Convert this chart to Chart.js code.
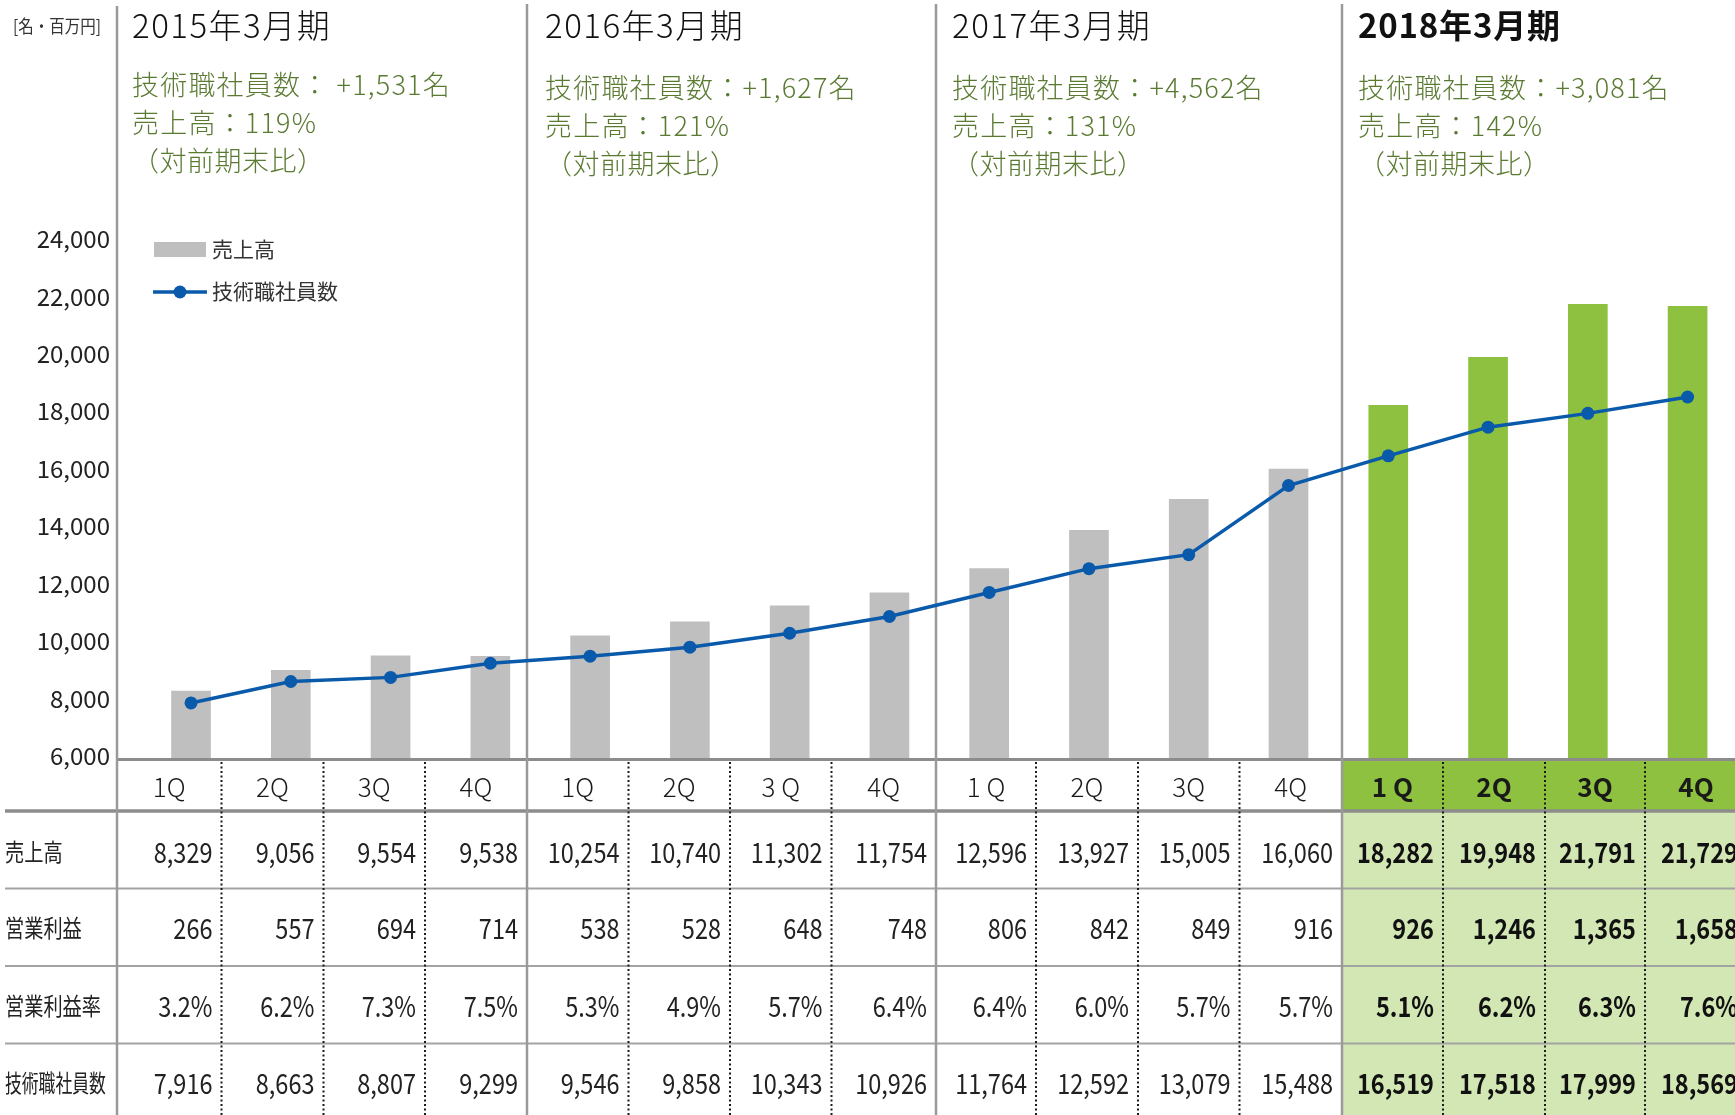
<!DOCTYPE html>
<html><head><meta charset="utf-8">
<script src="https://cdn.jsdelivr.net/npm/chart.js@4.4.1/dist/chart.umd.min.js"></script>
<style>
html,body{margin:0;padding:0;background:#fff;overflow:hidden;}
#wrap{position:relative;width:1735px;height:1115px;}
</style></head><body>
<div id="wrap"><canvas id="c"></canvas></div>
<script>
// ---------------- data ----------------
const periods = ['2015年3月期', '2016年3月期', '2017年3月期', '2018年3月期'];
const headcountGrowth = [' +1,531名', '+1,627名', '+4,562名', '+3,081名'];
const salesGrowth = ['119%', '121%', '131%', '142%'];
const quarters = ['1Q','2Q','3Q','4Q','1Q','2Q','3 Q','4Q','1 Q','2Q','3Q','4Q','1 Q','2Q','3Q','4Q'];
const sales = [8329, 9056, 9554, 9538, 10254, 10740, 11302, 11754, 12596, 13927, 15005, 16060, 18282, 19948, 21791, 21729];
const operatingProfit = [266, 557, 694, 714, 538, 528, 648, 748, 806, 842, 849, 916, 926, 1246, 1365, 1658];
const operatingMargin = [3.2, 6.2, 7.3, 7.5, 5.3, 4.9, 5.7, 6.4, 6.4, 6.0, 5.7, 5.7, 5.1, 6.2, 6.3, 7.6];
const engineers = [7916, 8663, 8807, 9299, 9546, 9858, 10343, 10926, 11764, 12592, 13079, 15488, 16519, 17518, 17999, 18569];
const rowLabels = ['売上高', '営業利益', '営業利益率', '技術職社員数'];
const seriesNames = ['売上高', '技術職社員数'];
const unitLabel = '[名・百万円]';
const yMin = 6000, yMax = 24000, yStep = 2000;
const highlightPeriod = 3;

// ---------------- layout / style ----------------
const GRAY = '#bfbfbf', GREEN = '#8dc13f', LIGHT = '#d3e7b5', BLUE = '#0a5aab', TXTGREEN = '#5a7a32';
const edges = [117,221.5,323.5,425,527,628.5,730,831.5,936,1036,1138,1239.5,1342,1443,1545,1645,1747];
const periodX = [117, 527, 936, 1342];
const titleX = [132, 545, 952, 1358];
const noteDY = [-3, 0, 0, 0];
const rowLines = [888.5, 966, 1043.5];
const rowCenters = [852, 928, 1006, 1083];
const rowLabelScale = [0.8, 0.8, 0.8, 0.7];
const JP = "'Noto Sans CJK JP', sans-serif";

function txt(ctx, s, x, y, font, color, align, sx, ls) {
  ctx.save();
  ctx.font = font; ctx.fillStyle = color;
  ctx.textAlign = align || 'left'; ctx.textBaseline = 'middle';
  if (ls) ctx.letterSpacing = ls;
  ctx.translate(x, y); ctx.scale(sx || 1, 1);
  ctx.fillText(s, 0, 0);
  ctx.restore();
}
function hline(ctx, x1, x2, y, w, c) {
  ctx.save(); ctx.strokeStyle = c; ctx.lineWidth = w;
  ctx.beginPath(); ctx.moveTo(x1, y); ctx.lineTo(x2, y); ctx.stroke(); ctx.restore();
}
function vline(ctx, x, y1, y2, w, c, dash) {
  ctx.save(); ctx.strokeStyle = c; ctx.lineWidth = w;
  if (dash) ctx.setLineDash(dash);
  ctx.beginPath(); ctx.moveTo(x, y1); ctx.lineTo(x, y2); ctx.stroke(); ctx.restore();
}
const fmt = v => v.toLocaleString('en-US');

const decor = {
  id: 'decor',
  beforeDatasetsDraw(chart) {
    const ctx = chart.ctx;
    const W = chart.width, H = chart.height;
    const hx = periodX[highlightPeriod];
    // highlight fills
    ctx.save();
    ctx.fillStyle = GREEN; ctx.fillRect(hx, 760, W - hx, 51);
    ctx.fillStyle = LIGHT; ctx.fillRect(hx, 812, W - hx, H - 812);
    ctx.restore();
    // horizontal lines
    hline(ctx, 117, W, 759.5, 3, '#8c8c8c');
    hline(ctx, 5, W, 811, 3.5, '#8c8c8c');
    rowLines.forEach(y => hline(ctx, 5, W, y, 2, '#a3a3a3'));
    // dotted column separators
    for (let k = 1; k < edges.length - 1; k++) {
      if (k % 4 === 0) continue;
      vline(ctx, edges[k], 762, H, 2, '#1a1a1a', [2, 2.5]);
    }
    // solid period separators
    vline(ctx, 117, 6, H, 2.5, '#9a9a9a');
    for (let p = 1; p < periodX.length; p++) vline(ctx, periodX[p], 4, H, 2.5, '#9a9a9a');

    // unit label
    txt(ctx, unitLabel, 13, 26, '18px ' + JP, '#333', 'left', 0.86);
    // period headers
    periods.forEach((p, i) => {
      const bold = i === highlightPeriod;
      txt(ctx, p, titleX[i], 25, (bold ? '700 ' : '300 ') + '33px ' + JP, '#111', 'left', 1, bold ? '0.8px' : '1.5px');
      const dy = noteDY[i];
      txt(ctx, '技術職社員数：' + headcountGrowth[i], titleX[i], 88 + dy, '300 27px ' + JP, TXTGREEN, 'left', 1, '1.2px');
      txt(ctx, '売上高：' + salesGrowth[i], titleX[i], 126 + dy, '300 27px ' + JP, TXTGREEN, 'left', 1, '1.2px');
      txt(ctx, '（対前期末比）', titleX[i], 164 + dy, '300 27px ' + JP, TXTGREEN, 'left', 1, '0.5px');
    });

    // legend
    ctx.save();
    ctx.fillStyle = GRAY; ctx.fillRect(154, 242, 52, 15);
    ctx.strokeStyle = BLUE; ctx.lineWidth = 3.5;
    ctx.beginPath(); ctx.moveTo(153, 292); ctx.lineTo(207, 292); ctx.stroke();
    ctx.fillStyle = BLUE; ctx.beginPath(); ctx.arc(180, 292, 6.5, 0, Math.PI * 2); ctx.fill();
    ctx.restore();
    txt(ctx, seriesNames[0], 212, 249, '21px ' + JP, '#333');
    txt(ctx, seriesNames[1], 212, 291, '21px ' + JP, '#333');

    // quarter labels
    quarters.forEach((q, i) => {
      const cx = (edges[i] + edges[i + 1]) / 2;
      const bold = Math.floor(i / 4) === highlightPeriod;
      txt(ctx, q, cx, 787, (bold ? '700 ' : '300 ') + '26px ' + JP, '#1a1a1a', 'center');
    });
    // row labels
    rowLabels.forEach((r, j) => txt(ctx, r, 5, rowCenters[j], '24px ' + JP, '#222', 'left', rowLabelScale[j]));
    // table values
    const rows = [sales.map(fmt), operatingProfit.map(fmt), operatingMargin.map(v => v.toFixed(1) + '%'), engineers.map(fmt)];
    rows.forEach((row, j) => {
      row.forEach((s, i) => {
        const bold = Math.floor(i / 4) === highlightPeriod;
        txt(ctx, s, edges[i + 1] - 9, rowCenters[j], (bold ? '700 ' : '400 ') + '28px ' + JP, bold ? '#111' : '#222', 'right', 0.84);
      });
    });
  }
};

const barColors = sales.map((v, i) => Math.floor(i / 4) === highlightPeriod ? GREEN : GRAY);

new Chart(document.getElementById('c'), {
  type: 'bar',
  data: {
    datasets: [
      {
        type: 'line', label: seriesNames[1], order: 1,
        data: engineers.map((v, i) => ({ x: i, y: v })),
        borderColor: BLUE, backgroundColor: BLUE, borderWidth: 3.5,
        pointRadius: 6.5, pointHoverRadius: 6.5, pointBackgroundColor: BLUE, pointBorderWidth: 0,
        tension: 0
      },
      {
        type: 'bar', label: seriesNames[0], order: 2,
        data: sales.map((v, i) => ({ x: i, y: v })),
        backgroundColor: barColors, barThickness: 39, borderWidth: 0
      }
    ]
  },
  options: {
    responsive: true, maintainAspectRatio: false, animation: false,
    layout: { padding: { top: 241, bottom: 357, left: 0, right: 0 } },
    plugins: { legend: { display: false }, tooltip: { enabled: false } },
    scales: {
      x: { type: 'linear', offset: false, min: -0.742, max: 15.41, display: false },
      y: {
        min: yMin, max: yMax,
        grid: { display: false, drawTicks: false },
        border: { display: false },
        ticks: {
          stepSize: yStep, padding: 7, color: '#222', labelOffset: -2,
          font: { family: JP, size: 24, weight: '400' },
          callback: v => fmt(v)
        },
        afterFit: s => { s.width = 117; }
      }
    }
  },
  plugins: [decor]
});
</script>
</body></html>
